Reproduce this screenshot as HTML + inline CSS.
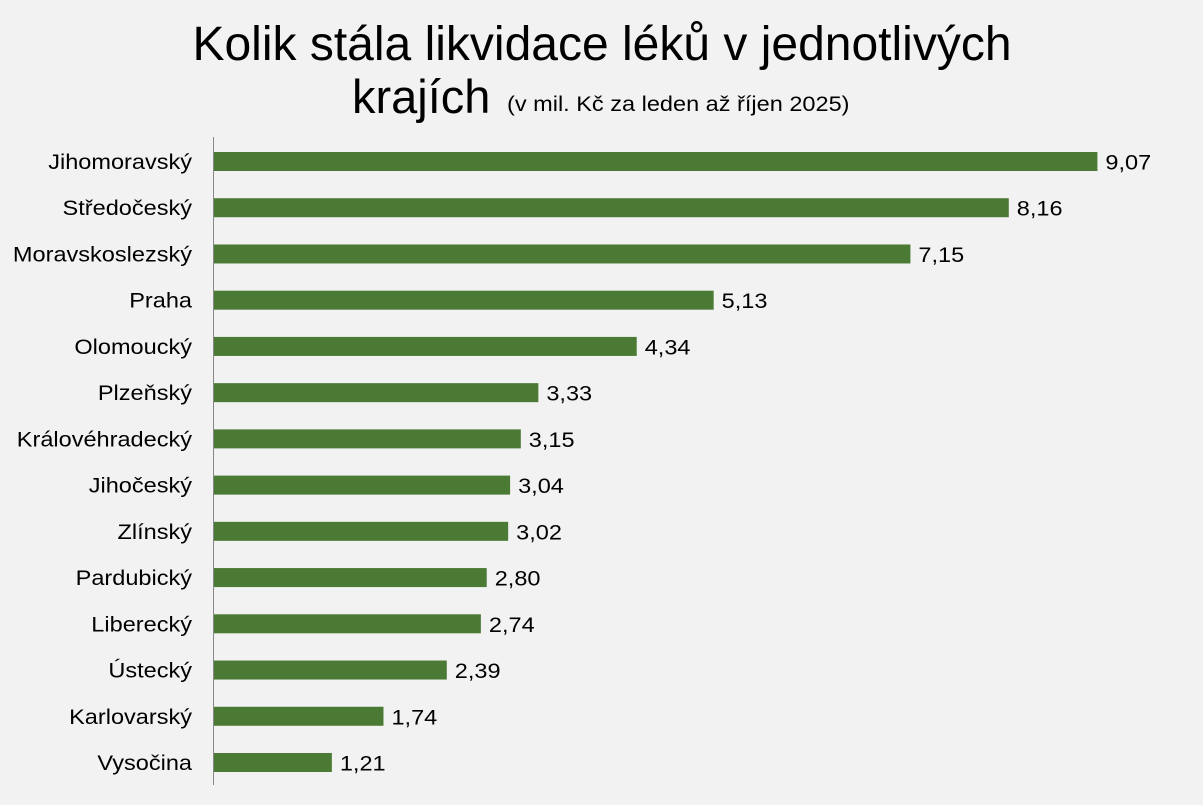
<!DOCTYPE html>
<html><head><meta charset="utf-8"><style>
body{margin:0;background:#f2f2f2;}
svg text{font-family:"Liberation Sans",sans-serif;}
</style></head><body>
<svg id="chart" width="1203" height="800" xmlns="http://www.w3.org/2000/svg">
<rect width="1203" height="800" fill="#f2f2f2"/>
<text x="602" y="60" font-size="48" text-anchor="middle" fill="#000">Kolik stála likvidace léků v jednotlivých</text>
<text x="352" y="113" font-size="47" fill="#000">krajích</text>
<text id="sub" x="507" y="111" font-size="21" fill="#000">(v mil. Kč za leden až říjen 2025)</text>
<line x1="213.5" y1="137" x2="213.5" y2="785" stroke="#888" stroke-width="1"/>
<g id="bars"></g>
</svg>
<script>
const categories=["Jihomoravský","Středočeský","Moravskoslezský","Praha","Olomoucký","Plzeňský","Královéhradecký","Jihočeský","Zlínský","Pardubický","Liberecký","Ústecký","Karlovarský","Vysočina"];
const values=[9.07,8.16,7.15,5.13,4.34,3.33,3.15,3.04,3.02,2.80,2.74,2.39,1.74,1.21];
const x0=214, pxPerUnit=97.4;
const xScale=v=>x0+v*pxPerUnit;
const yScale=i=>161.5+i*46.23;
const g=document.getElementById('bars');
const NS="http://www.w3.org/2000/svg";
function stretch(t){const L=t.getComputedTextLength();t.setAttribute('textLength',L*1.12);t.setAttribute('lengthAdjust','spacingAndGlyphs');}
stretch(document.getElementById('sub'));
categories.forEach((c,i)=>{
  const y=yScale(i);
  const r=document.createElementNS(NS,'rect');
  r.setAttribute('x',x0);r.setAttribute('y',y-9.5);
  r.setAttribute('width',xScale(values[i])-x0);r.setAttribute('height',19);
  r.setAttribute('fill','#4a7a33');
  
  
  g.appendChild(r);
  const t=document.createElementNS(NS,'text');
  t.setAttribute('x',192);t.setAttribute('y',y+7.5);
  t.setAttribute('text-anchor','end');t.setAttribute('font-size','21');
  t.textContent=c;
  
  
  g.appendChild(t);
  stretch(t);
  const v=document.createElementNS(NS,'text');
  v.setAttribute('x',xScale(values[i])+8);v.setAttribute('y',y+8);
  v.setAttribute('font-size','21');
  v.textContent=values[i].toFixed(2).replace('.',',');
  
  
  g.appendChild(v);
  stretch(v);
});
</script>
</body></html>
